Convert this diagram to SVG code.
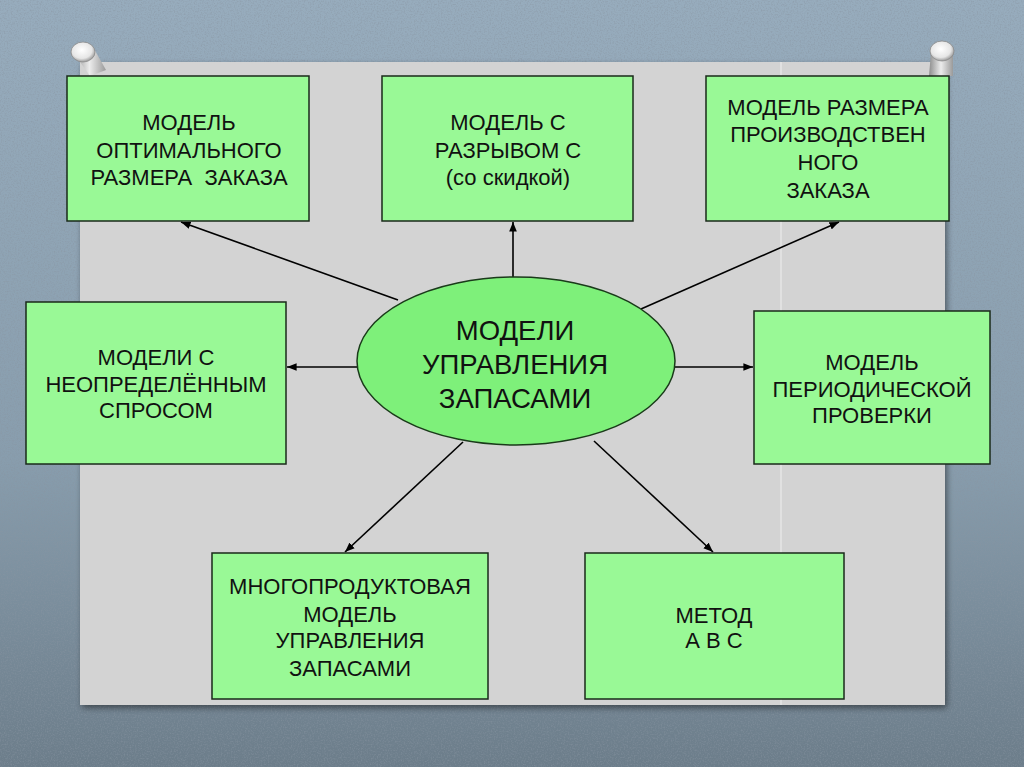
<svg xmlns="http://www.w3.org/2000/svg" width="1024" height="767" viewBox="0 0 1024 767">
  <defs>
    <linearGradient id="bg" x1="0" y1="0" x2="0" y2="1">
      <stop offset="0" stop-color="#97acbd"/>
      <stop offset="0.6" stop-color="#889dad"/>
      <stop offset="1" stop-color="#6c7d8a"/>
    </linearGradient>
    <filter id="grain" x="0" y="0" width="100%" height="100%">
      <feTurbulence type="fractalNoise" baseFrequency="0.7" numOctaves="2" seed="3" result="n"/>
      <feColorMatrix type="matrix" values="0 0 0 0 0.25  0 0 0 0 0.3  0 0 0 0 0.36  2.5 0 0 0 -1.1"/>
    </filter>
    <filter id="shadow" x="-5%" y="-5%" width="110%" height="110%">
      <feGaussianBlur in="SourceAlpha" stdDeviation="3"/>
      <feOffset dx="2" dy="3" result="b"/>
      <feComponentTransfer><feFuncA type="linear" slope="0.45"/></feComponentTransfer>
      <feMerge><feMergeNode/><feMergeNode in="SourceGraphic"/></feMerge>
    </filter>
    <radialGradient id="pinHead" cx="0.45" cy="0.4" r="0.6">
      <stop offset="0" stop-color="#ffffff"/>
      <stop offset="0.7" stop-color="#e6e6e6"/>
      <stop offset="1" stop-color="#9a9a9a"/>
    </radialGradient>
    <linearGradient id="pinShaft" x1="0" y1="0" x2="1" y2="0">
      <stop offset="0" stop-color="#8d8d8d"/>
      <stop offset="0.5" stop-color="#ececec"/>
      <stop offset="1" stop-color="#9a9a9a"/>
    </linearGradient>
    <marker id="arrow" viewBox="0 0 10 8" refX="10" refY="4" markerWidth="6" markerHeight="5" orient="auto" markerUnits="strokeWidth">
      <path d="M0,0 L10,4 L0,8 Z" fill="#000"/>
    </marker>
    <style>
      .box { fill: #99f996; stroke: #1a2a1a; stroke-width: 1.5; }
      .oval { fill: #7ef07a; stroke: #1a3a1a; stroke-width: 1.5; }
      .t { font-family: "Liberation Sans", Arial, sans-serif; font-size: 22px; fill: #111; text-anchor: middle; }
      .tb { font-family: "Liberation Sans", Arial, sans-serif; font-size: 27.5px; fill: #111; text-anchor: middle; }
      .conn line { stroke: #000; stroke-width: 1.6; marker-end: url(#arrow); }
    </style>
  </defs>

  <!-- background -->
  <rect x="0" y="0" width="1024" height="767" fill="url(#bg)"/>
  <rect x="0" y="0" width="1024" height="767" filter="url(#grain)" opacity="0.5"/>

  <!-- paper -->
  <rect x="80" y="62" width="865" height="643" fill="#d3d3d3" filter="url(#shadow)"/>
  <line x1="781" y1="62" x2="781" y2="705" stroke="#f2f2f2" stroke-width="1.2" opacity="0.8"/>

  <!-- pins -->
  <g id="pin-left">
    <path d="M73,52 L90,76 L106,70 L93,47 Z" fill="url(#pinShaft)"/>
    <ellipse cx="83" cy="52" rx="12" ry="10" fill="url(#pinHead)" stroke="#8a8a8a" stroke-width="0.8"/>
  </g>
  <g id="pin-right">
    <path d="M931,52 L929,76 L953,76 L953,52 Z" fill="url(#pinShaft)"/>
    <ellipse cx="942" cy="51" rx="12" ry="10" fill="url(#pinHead)" stroke="#8a8a8a" stroke-width="0.8"/>
  </g>

  <!-- connectors -->
  <g id="connectors" class="conn">
    <line x1="398" y1="300" x2="181" y2="222"/>
    <line x1="513" y1="277" x2="513" y2="222"/>
    <line x1="641" y1="309" x2="839" y2="222"/>
    <line x1="357" y1="367" x2="287" y2="367"/>
    <line x1="674" y1="367" x2="753" y2="367"/>
    <line x1="463" y1="442" x2="345" y2="552"/>
    <line x1="594" y1="441" x2="713" y2="552"/>
  </g>

  <!-- center -->
  <g id="center">
    <ellipse class="oval" cx="516" cy="361" rx="159" ry="84"/>
    <text class="tb" x="515" y="340">МОДЕЛИ</text>
    <text class="tb" x="515" y="374">УПРАВЛЕНИЯ</text>
    <text class="tb" x="515" y="408">ЗАПАСАМИ</text>
  </g>

  <g id="node-eoq">
    <rect class="box" x="67" y="76" width="242" height="145"/>
    <text class="t" x="189" y="130">МОДЕЛЬ</text>
    <text class="t" x="189" y="158">ОПТИМАЛЬНОГО</text>
    <text class="t" x="189" y="185" xml:space="preserve">РАЗМЕРА  ЗАКАЗА</text>
  </g>

  <g id="node-discount">
    <rect class="box" x="382" y="76" width="251" height="145"/>
    <text class="t" x="508" y="130">МОДЕЛЬ С</text>
    <text class="t" x="508" y="158">РАЗРЫВОМ С</text>
    <text class="t" x="508" y="185">(со скидкой)</text>
  </g>

  <g id="node-production">
    <rect class="box" x="706" y="76" width="243" height="145"/>
    <text class="t" x="828" y="115">МОДЕЛЬ РАЗМЕРА</text>
    <text class="t" x="828" y="142">ПРОИЗВОДСТВЕН</text>
    <text class="t" x="828" y="170">НОГО</text>
    <text class="t" x="828" y="198">ЗАКАЗА</text>
  </g>

  <g id="node-uncertain">
    <rect class="box" x="26" y="302" width="260" height="162"/>
    <text class="t" x="156" y="365">МОДЕЛИ С</text>
    <text class="t" x="156" y="392">НЕОПРЕДЕЛЁННЫМ</text>
    <text class="t" x="156" y="418">СПРОСОМ</text>
  </g>

  <g id="node-periodic">
    <rect class="box" x="754" y="311" width="236" height="153"/>
    <text class="t" x="872" y="370">МОДЕЛЬ</text>
    <text class="t" x="872" y="397">ПЕРИОДИЧЕСКОЙ</text>
    <text class="t" x="872" y="423">ПРОВЕРКИ</text>
  </g>

  <g id="node-multiproduct">
    <rect class="box" x="212" y="553" width="276" height="146"/>
    <text class="t" x="350" y="594">МНОГОПРОДУКТОВАЯ</text>
    <text class="t" x="350" y="622">МОДЕЛЬ</text>
    <text class="t" x="350" y="648">УПРАВЛЕНИЯ</text>
    <text class="t" x="350" y="676">ЗАПАСАМИ</text>
  </g>

  <g id="node-abc">
    <rect class="box" x="585" y="553" width="259" height="146"/>
    <text class="t" x="714" y="623">МЕТОД</text>
    <text class="t" x="714" y="648">А В С</text>
  </g>
</svg>
